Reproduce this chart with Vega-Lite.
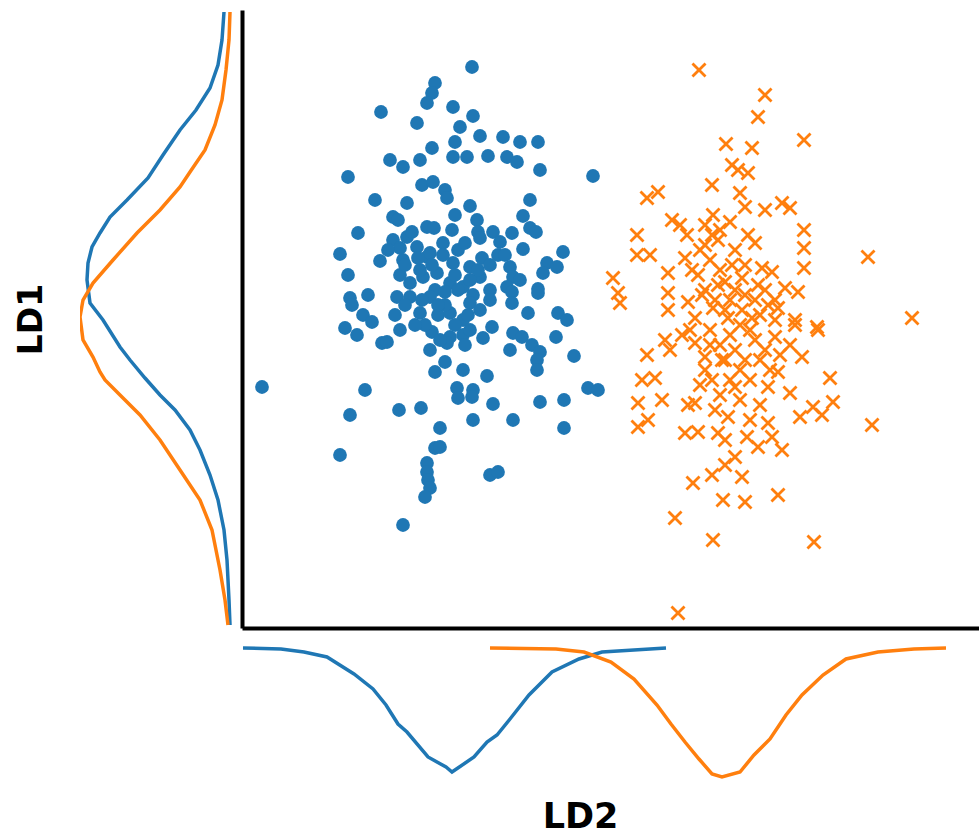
{
"$schema": "https://vega.github.io/schema/vega-lite/v6.json",
"padding": {"left": 15, "top": 10, "right": 0, "bottom": 0},
"background": "white",
"config": {"view": {"stroke": null}, "font": "DejaVu Sans"},
"columns": 2,
"spacing": {"row": 12, "column": 4},
"datasets": {
"blue": [
{"ld2":1.93,"ld1":5.45},{"ld2":1.90,"ld1":5.35},{"ld2":1.85,"ld1":5.25},{"ld2":1.39,"ld1":5.16},{"ld2":1.75,"ld1":5.05},
{"ld2":1.90,"ld1":4.80},{"ld2":1.48,"ld1":4.68},{"ld2":1.61,"ld1":4.61},{"ld2":1.78,"ld1":4.68},{"ld2":1.06,"ld1":4.51},
{"ld2":1.80,"ld1":4.43},{"ld2":1.91,"ld1":4.46},{"ld2":1.33,"ld1":4.28},{"ld2":1.65,"ld1":4.25},{"ld2":1.51,"ld1":4.11},
{"ld2":1.56,"ld1":4.08},{"ld2":1.85,"ld1":4.01},{"ld2":1.16,"ld1":3.95},{"ld2":1.51,"ld1":3.88},{"ld2":1.65,"ld1":3.91},
{"ld2":1.75,"ld1":3.81},{"ld2":0.98,"ld1":3.74},{"ld2":1.38,"ld1":3.67},{"ld2":1.61,"ld1":3.68},{"ld2":1.85,"ld1":3.71},
{"ld2":1.06,"ld1":3.53},{"ld2":1.81,"ld1":3.51},{"ld2":1.68,"ld1":3.45},{"ld2":1.26,"ld1":3.33},{"ld2":1.08,"ld1":3.30},
{"ld2":1.55,"ld1":3.31},{"ld2":2.30,"ld1":5.61},{"ld2":2.11,"ld1":5.21},{"ld2":2.31,"ld1":5.12},{"ld2":2.18,"ld1":5.01},
{"ld2":2.38,"ld1":4.92},{"ld2":2.61,"ld1":4.91},{"ld2":2.78,"ld1":4.86},{"ld2":2.96,"ld1":4.86},{"ld2":2.13,"ld1":4.86},
{"ld2":2.11,"ld1":4.71},{"ld2":2.25,"ld1":4.71},{"ld2":2.46,"ld1":4.72},{"ld2":2.65,"ld1":4.71},{"ld2":2.75,"ld1":4.66},
{"ld2":2.98,"ld1":4.58},{"ld2":3.51,"ld1":4.52},{"ld2":2.03,"ld1":4.38},{"ld2":2.05,"ld1":4.30},{"ld2":2.88,"ld1":4.28},
{"ld2":2.28,"ld1":4.22},{"ld2":2.13,"ld1":4.13},{"ld2":2.81,"ld1":4.12},{"ld2":1.92,"ld1":4.00},{"ld2":2.35,"ld1":4.08},
{"ld2":2.10,"ld1":3.98},{"ld2":2.36,"ld1":3.96},{"ld2":2.51,"ld1":3.96},{"ld2":2.70,"ld1":3.95},{"ld2":2.88,"ld1":4.00},
{"ld2":2.94,"ld1":3.96},{"ld2":2.01,"ld1":3.85},{"ld2":2.38,"ld1":3.90},{"ld2":2.58,"ld1":3.86},{"ld2":2.81,"ld1":3.79},
{"ld2":3.21,"ld1":3.76},{"ld2":1.88,"ld1":3.75},{"ld2":2.11,"ld1":3.65},{"ld2":2.40,"ld1":3.70},{"ld2":2.28,"ld1":3.61},
{"ld2":2.68,"ld1":3.61},{"ld2":3.05,"ld1":3.65},{"ld2":3.15,"ld1":3.61},{"ld2":1.95,"ld1":3.55},{"ld2":2.38,"ld1":3.51},
{"ld2":2.71,"ld1":3.51},{"ld2":2.78,"ld1":3.48},{"ld2":3.01,"ld1":3.55},{"ld2":2.08,"ld1":3.45},{"ld2":2.21,"ld1":3.41},
{"ld2":2.65,"ld1":3.41},{"ld2":2.96,"ld1":3.39},{"ld2":2.31,"ld1":3.33},{"ld2":1.93,"ld1":3.38},{"ld2":1.68,"ld1":3.31},
{"ld2":1.88,"ld1":3.31},{"ld2":1.10,"ld1":3.23},{"ld2":1.21,"ld1":3.13},{"ld2":1.30,"ld1":3.06},{"ld2":1.78,"ld1":3.15},
{"ld2":1.96,"ld1":3.13},{"ld2":1.03,"ld1":3.00},{"ld2":1.15,"ld1":2.93},{"ld2":1.40,"ld1":2.85},{"ld2":1.45,"ld1":2.86},
{"ld2":1.90,"ld1":2.96},{"ld2":1.88,"ld1":2.78},{"ld2":1.93,"ld1":2.56},{"ld2":0.20,"ld1":2.41},{"ld2":1.23,"ld1":2.38},
{"ld2":1.08,"ld1":2.13},{"ld2":1.57,"ld1":2.18},{"ld2":1.79,"ld1":2.20},{"ld2":1.98,"ld1":2.00},{"ld2":1.93,"ld1":1.80},
{"ld2":0.98,"ld1":1.73},{"ld2":1.85,"ld1":1.65},{"ld2":1.85,"ld1":1.56},{"ld2":1.86,"ld1":1.48},{"ld2":1.88,"ld1":1.40},
{"ld2":1.83,"ld1":1.31},{"ld2":1.61,"ld1":1.03},{"ld2":2.70,"ld1":3.36},{"ld2":2.96,"ld1":3.35},{"ld2":2.70,"ld1":3.25},
{"ld2":2.28,"ld1":3.25},{"ld2":2.38,"ld1":3.18},{"ld2":2.86,"ld1":3.15},{"ld2":3.16,"ld1":3.15},{"ld2":3.25,"ld1":3.08},
{"ld2":2.08,"ld1":3.15},{"ld2":2.21,"ld1":3.08},{"ld2":2.50,"ld1":3.01},{"ld2":2.08,"ld1":2.91},{"ld2":2.21,"ld1":2.93},
{"ld2":2.41,"ld1":2.90},{"ld2":2.71,"ld1":2.95},{"ld2":2.80,"ld1":2.91},{"ld2":2.68,"ld1":2.78},{"ld2":2.90,"ld1":2.83},
{"ld2":2.98,"ld1":2.76},{"ld2":3.14,"ld1":2.91},{"ld2":2.05,"ld1":2.85},{"ld2":2.95,"ld1":2.68},{"ld2":2.95,"ld1":2.58},
{"ld2":3.32,"ld1":2.72},{"ld2":2.03,"ld1":2.66},{"ld2":2.21,"ld1":2.58},{"ld2":2.45,"ld1":2.52},{"ld2":2.15,"ld1":2.40},
{"ld2":2.31,"ld1":2.38},{"ld2":2.16,"ld1":2.30},{"ld2":2.30,"ld1":2.31},{"ld2":3.46,"ld1":2.40},{"ld2":3.56,"ld1":2.38},
{"ld2":2.51,"ld1":2.24},{"ld2":2.98,"ld1":2.26},{"ld2":3.22,"ld1":2.28},{"ld2":2.31,"ld1":2.08},{"ld2":2.71,"ld1":2.08},
{"ld2":3.22,"ld1":2.00},{"ld2":1.98,"ld1":1.81},{"ld2":2.48,"ld1":1.53},{"ld2":2.56,"ld1":1.56},
{"ld2":2.01,"ld1":3.73},{"ld2":2.16,"ld1":3.78},{"ld2":2.23,"ld1":3.85},{"ld2":1.78,"ld1":3.58},{"ld2":1.58,"ld1":3.80},
{"ld2":1.46,"ld1":3.78},{"ld2":1.70,"ld1":3.96},{"ld2":2.13,"ld1":3.03},{"ld2":1.83,"ld1":3.03},{"ld2":1.63,"ld1":3.23},
{"ld2":2.13,"ld1":3.53},{"ld2":2.03,"ld1":3.23},{"ld2":2.28,"ld1":3.48},{"ld2":2.48,"ld1":3.38},{"ld2":2.56,"ld1":3.73},
{"ld2":2.48,"ld1":3.28},{"ld2":2.23,"ld1":2.83},{"ld2":1.73,"ld1":3.03},{"ld2":1.58,"ld1":3.53},
{"ld2":1.63,"ld1":3.63},{"ld2":1.76,"ld1":3.70},{"ld2":1.90,"ld1":3.63},{"ld2":2.03,"ld1":3.36},{"ld2":2.16,"ld1":3.38},
{"ld2":2.26,"ld1":3.13},{"ld2":1.96,"ld1":3.23},{"ld2":1.80,"ld1":3.28},{"ld2":1.53,"ld1":3.13},{"ld2":1.58,"ld1":2.98},
{"ld2":1.98,"ld1":2.88},{"ld2":2.28,"ld1":2.98},{"ld2":2.36,"ld1":3.58},{"ld2":2.48,"ld1":3.63},{"ld2":2.63,"ld1":3.73}
],
"orange": [
{"ld2":4.57,"ld1":5.58},{"ld2":5.23,"ld1":5.33},{"ld2":5.16,"ld1":5.11},{"ld2":4.84,"ld1":4.84},{"ld2":5.10,"ld1":4.80},
{"ld2":4.90,"ld1":4.63},{"ld2":4.96,"ld1":4.58},{"ld2":5.06,"ld1":4.55},{"ld2":4.70,"ld1":4.43},{"ld2":5.23,"ld1":4.18},
{"ld2":4.05,"ld1":4.30},{"ld2":4.16,"ld1":4.36},{"ld2":4.30,"ld1":4.08},{"ld2":4.38,"ld1":4.03},{"ld2":4.45,"ld1":3.93},
{"ld2":4.71,"ld1":4.13},{"ld2":4.70,"ld1":3.93},{"ld2":4.78,"ld1":3.98},{"ld2":4.88,"ld1":4.06},{"ld2":4.98,"ld1":4.35},
{"ld2":5.03,"ld1":4.21},{"ld2":3.95,"ld1":3.93},{"ld2":3.95,"ld1":3.73},{"ld2":4.08,"ld1":3.73},{"ld2":4.43,"ld1":3.70},
{"ld2":4.56,"ld1":3.53},{"ld2":4.50,"ld1":3.58},{"ld2":5.06,"ld1":3.93},{"ld2":5.13,"ld1":3.85},{"ld2":4.90,"ld1":3.63},
{"ld2":5.00,"ld1":3.50},{"ld2":5.20,"ld1":3.60},{"ld2":3.71,"ld1":3.50},{"ld2":3.76,"ld1":3.35},{"ld2":3.78,"ld1":3.25},
{"ld2":4.26,"ld1":3.55},{"ld2":4.26,"ld1":3.35},{"ld2":4.26,"ld1":3.18},{"ld2":4.46,"ld1":3.26},{"ld2":4.60,"ld1":3.33},
{"ld2":4.71,"ld1":3.20},{"ld2":5.03,"ld1":3.33},{"ld2":5.16,"ld1":3.43},{"ld2":4.53,"ld1":3.10},{"ld2":4.86,"ld1":3.10},
{"ld2":5.10,"ld1":3.10},{"ld2":5.62,"ld1":4.88},{"ld2":5.40,"ld1":4.25},{"ld2":5.48,"ld1":4.20},{"ld2":5.62,"ld1":3.98},
{"ld2":5.62,"ld1":3.80},{"ld2":5.62,"ld1":3.60},{"ld2":6.26,"ld1":3.71},{"ld2":5.30,"ld1":3.56},{"ld2":5.43,"ld1":3.40},
{"ld2":5.56,"ld1":3.36},{"ld2":5.26,"ld1":3.23},{"ld2":5.36,"ld1":3.20},{"ld2":5.53,"ld1":3.08},{"ld2":5.75,"ld1":3.01},
{"ld2":6.70,"ld1":3.10},{"ld2":4.23,"ld1":2.88},{"ld2":4.40,"ld1":2.93},{"ld2":4.05,"ld1":2.73},{"ld2":4.28,"ld1":2.78},
{"ld2":4.53,"ld1":2.85},{"ld2":4.00,"ld1":2.48},{"ld2":4.13,"ld1":2.50},{"ld2":3.96,"ld1":2.25},{"ld2":4.20,"ld1":2.28},
{"ld2":4.06,"ld1":2.08},{"ld2":3.96,"ld1":2.01},{"ld2":4.46,"ld1":2.23},{"ld2":4.53,"ld1":2.25},{"ld2":4.43,"ld1":1.95},
{"ld2":4.56,"ld1":1.96},{"ld2":4.76,"ld1":1.95},{"ld2":4.86,"ld1":2.11},{"ld2":4.70,"ld1":2.48},{"ld2":4.80,"ld1":2.68},
{"ld2":4.63,"ld1":2.71},{"ld2":4.93,"ld1":2.41},{"ld2":5.05,"ld1":1.91},{"ld2":5.16,"ld1":1.81},{"ld2":4.93,"ld1":1.71},
{"ld2":4.83,"ld1":1.63},{"ld2":4.70,"ld1":1.53},{"ld2":5.00,"ld1":1.51},{"ld2":4.51,"ld1":1.45},{"ld2":4.81,"ld1":1.28},
{"ld2":5.03,"ld1":1.26},{"ld2":4.33,"ld1":1.10},{"ld2":4.71,"ld1":0.88},{"ld2":4.36,"ld1":0.15},{"ld2":5.33,"ld1":2.91},
{"ld2":5.53,"ld1":3.03},{"ld2":5.76,"ld1":2.98},{"ld2":5.60,"ld1":2.71},{"ld2":5.88,"ld1":2.50},{"ld2":5.36,"ld1":2.56},
{"ld2":5.26,"ld1":2.41},{"ld2":5.48,"ld1":2.35},{"ld2":5.91,"ld1":2.26},{"ld2":5.71,"ld1":2.21},{"ld2":5.80,"ld1":2.13},
{"ld2":5.58,"ld1":2.11},{"ld2":6.30,"ld1":2.03},{"ld2":5.26,"ld1":2.05},{"ld2":5.30,"ld1":1.91},{"ld2":5.40,"ld1":1.78},
{"ld2":5.36,"ld1":1.33},{"ld2":5.72,"ld1":0.86},{"ld2":4.58,"ld1":3.78},{"ld2":4.68,"ld1":3.68},{"ld2":4.78,"ld1":3.58},
{"ld2":4.83,"ld1":3.46},{"ld2":4.93,"ld1":3.38},{"ld2":5.13,"ld1":3.28},{"ld2":5.23,"ld1":3.38},{"ld2":5.33,"ld1":3.28},
{"ld2":5.18,"ld1":3.13},{"ld2":4.98,"ld1":3.03},{"ld2":4.88,"ld1":2.93},{"ld2":4.78,"ld1":2.83},{"ld2":4.68,"ld1":2.98},
{"ld2":4.73,"ld1":3.28},{"ld2":4.83,"ld1":3.18},{"ld2":4.93,"ld1":2.78},{"ld2":5.03,"ld1":2.68},{"ld2":5.13,"ld1":2.88},
{"ld2":5.23,"ld1":2.78},{"ld2":5.38,"ld1":2.73},{"ld2":5.48,"ld1":2.83},{"ld2":5.28,"ld1":2.58},{"ld2":5.08,"ld1":2.48},
{"ld2":4.98,"ld1":2.28},{"ld2":5.18,"ld1":2.23},{"ld2":5.08,"ld1":2.08},{"ld2":4.88,"ld1":2.48},{"ld2":4.78,"ld1":2.33},
{"ld2":4.63,"ld1":2.58},{"ld2":4.58,"ld1":2.43},{"ld2":4.73,"ld1":2.18},{"ld2":4.83,"ld1":1.88},{"ld2":4.63,"ld1":3.83},
{"ld2":4.76,"ld1":3.88},{"ld2":4.93,"ld1":3.78},{"ld2":4.63,"ld1":4.03},{"ld2":5.03,"ld1":3.63},
{"ld2":4.63,"ld1":3.38},{"ld2":4.76,"ld1":3.43},{"ld2":4.88,"ld1":3.28},{"ld2":5.00,"ld1":3.18},{"ld2":4.68,"ld1":2.83},
{"ld2":4.83,"ld1":2.68},{"ld2":4.98,"ld1":2.58},{"ld2":5.18,"ld1":2.68},{"ld2":5.08,"ld1":2.98},{"ld2":4.48,"ld1":2.98},
{"ld2":5.33,"ld1":3.08}
],
"left": [
{"g":"A","ld1":6.16,"dens":0.008},{"g":"A","ld1":5.88,"dens":0.010},{"g":"A","ld1":5.63,"dens":0.014},{"g":"A","ld1":5.40,"dens":0.022},
{"g":"A","ld1":5.18,"dens":0.036},{"g":"A","ld1":4.98,"dens":0.052},{"g":"A","ld1":4.73,"dens":0.069},{"g":"A","ld1":4.50,"dens":0.084},
{"g":"A","ld1":4.28,"dens":0.105},{"g":"A","ld1":4.11,"dens":0.122},{"g":"A","ld1":3.95,"dens":0.132},{"g":"A","ld1":3.81,"dens":0.140},
{"g":"A","ld1":3.65,"dens":0.144},{"g":"A","ld1":3.48,"dens":0.145},{"g":"A","ld1":3.25,"dens":0.142},{"g":"A","ld1":3.08,"dens":0.129},
{"g":"A","ld1":2.81,"dens":0.112},{"g":"A","ld1":2.68,"dens":0.102},{"g":"A","ld1":2.50,"dens":0.087},{"g":"A","ld1":2.33,"dens":0.072},
{"g":"A","ld1":2.18,"dens":0.057},{"g":"A","ld1":1.98,"dens":0.042},{"g":"A","ld1":1.78,"dens":0.032},{"g":"A","ld1":1.53,"dens":0.022},
{"g":"A","ld1":1.28,"dens":0.014},{"g":"A","ld1":0.98,"dens":0.008},{"g":"A","ld1":0.68,"dens":0.005},{"g":"A","ld1":0.28,"dens":0.003},
{"g":"A","ld1":0.03,"dens":0.002},
{"g":"B","ld1":6.16,"dens":0.002},{"g":"B","ld1":5.88,"dens":0.003},{"g":"B","ld1":5.58,"dens":0.006},{"g":"B","ld1":5.28,"dens":0.010},
{"g":"B","ld1":5.03,"dens":0.017},{"g":"B","ld1":4.78,"dens":0.027},{"g":"B","ld1":4.56,"dens":0.042},{"g":"B","ld1":4.41,"dens":0.052},
{"g":"B","ld1":4.18,"dens":0.072},{"g":"B","ld1":3.95,"dens":0.095},{"g":"B","ld1":3.68,"dens":0.119},{"g":"B","ld1":3.45,"dens":0.139},
{"g":"B","ld1":3.28,"dens":0.149},{"g":"B","ld1":3.11,"dens":0.152},{"g":"B","ld1":2.88,"dens":0.149},{"g":"B","ld1":2.71,"dens":0.139},
{"g":"B","ld1":2.56,"dens":0.132},{"g":"B","ld1":2.48,"dens":0.127},{"g":"B","ld1":2.33,"dens":0.112},{"g":"B","ld1":2.13,"dens":0.092},
{"g":"B","ld1":1.88,"dens":0.072},{"g":"B","ld1":1.58,"dens":0.052},{"g":"B","ld1":1.28,"dens":0.032},{"g":"B","ld1":0.98,"dens":0.020},
{"g":"B","ld1":0.58,"dens":0.012},{"g":"B","ld1":0.28,"dens":0.007},{"g":"B","ld1":0.03,"dens":0.004}
],
"bottom": [
{"g":"A","ld2":0.01,"dens":0.006},{"g":"A","ld2":0.39,"dens":0.007},{"g":"A","ld2":0.62,"dens":0.010},{"g":"A","ld2":0.85,"dens":0.015},
{"g":"A","ld2":1.12,"dens":0.032},{"g":"A","ld2":1.31,"dens":0.047},{"g":"A","ld2":1.44,"dens":0.063},{"g":"A","ld2":1.56,"dens":0.082},
{"g":"A","ld2":1.65,"dens":0.090},{"g":"A","ld2":1.86,"dens":0.115},{"g":"A","ld2":2.04,"dens":0.125},{"g":"A","ld2":2.10,"dens":0.130},
{"g":"A","ld2":2.32,"dens":0.115},{"g":"A","ld2":2.45,"dens":0.100},{"g":"A","ld2":2.55,"dens":0.093},{"g":"A","ld2":2.68,"dens":0.077},
{"g":"A","ld2":2.87,"dens":0.053},{"g":"A","ld2":3.10,"dens":0.030},{"g":"A","ld2":3.37,"dens":0.017},{"g":"A","ld2":3.60,"dens":0.010},
{"g":"A","ld2":4.24,"dens":0.006},
{"g":"B","ld2":2.48,"dens":0.006},{"g":"B","ld2":3.14,"dens":0.007},{"g":"B","ld2":3.42,"dens":0.010},{"g":"B","ld2":3.69,"dens":0.020},
{"g":"B","ld2":3.92,"dens":0.037},{"g":"B","ld2":4.15,"dens":0.063},{"g":"B","ld2":4.29,"dens":0.082},{"g":"B","ld2":4.43,"dens":0.100},
{"g":"B","ld2":4.57,"dens":0.117},{"g":"B","ld2":4.70,"dens":0.132},{"g":"B","ld2":4.80,"dens":0.135},{"g":"B","ld2":4.98,"dens":0.130},
{"g":"B","ld2":5.12,"dens":0.113},{"g":"B","ld2":5.28,"dens":0.097},{"g":"B","ld2":5.44,"dens":0.073},{"g":"B","ld2":5.60,"dens":0.053},
{"g":"B","ld2":5.81,"dens":0.033},{"g":"B","ld2":6.04,"dens":0.017},{"g":"B","ld2":6.36,"dens":0.010},{"g":"B","ld2":6.72,"dens":0.007},
{"g":"B","ld2":7.04,"dens":0.006}
]
},
"concat": [
{
"width": 152, "height": 618,
"data": {"name": "left"},
"mark": {"type": "line", "strokeWidth": 3.5, "clip": true},
"encoding": {
"x": {"field": "dens", "type": "quantitative", "scale": {"domain": [0, 0.152], "reverse": true, "nice": false, "zero": false}, "axis": null},
"y": {"field": "ld1", "type": "quantitative", "scale": {"domain": [0, 6.18], "nice": false, "zero": false},
"axis": {"title": "LD1", "domain": false, "ticks": false, "labels": false, "grid": false, "titleFontSize": 33, "titleFontWeight": "bold", "titleFont": "DejaVu Sans", "titleColor": "black", "titlePadding": 32}},
"order": {"field": "ld1", "type": "quantitative"},
"color": {"field": "g", "type": "nominal", "scale": {"domain": ["A", "B"], "range": ["#1f77b4", "#ff7f0e"]}, "legend": null}
}
},
{
"width": 737, "height": 618,
"layer": [
{
"data": {"name": "blue"},
"mark": {"type": "circle", "size": 190, "color": "#1f77b4", "opacity": 1},
"encoding": {
"x": {"field": "ld2", "type": "quantitative", "scale": {"domain": [0, 7.37], "nice": false, "zero": false},
"axis": {"title": null, "domain": true, "domainColor": "black", "domainWidth": 4, "ticks": false, "labels": false, "grid": false}},
"y": {"field": "ld1", "type": "quantitative", "scale": {"domain": [0, 6.18], "nice": false, "zero": false},
"axis": {"title": null, "domain": true, "domainColor": "black", "domainWidth": 4, "ticks": false, "labels": false, "grid": false}}
}
},
{
"data": {"name": "orange"},
"mark": {"type": "point", "shape": "M-1,-1L1,1M-1,1L1,-1", "size": 170, "color": "#ff7f0e", "filled": false, "strokeWidth": 2.8, "opacity": 1},
"encoding": {
"x": {"field": "ld2", "type": "quantitative"},
"y": {"field": "ld1", "type": "quantitative"}
}
}
]
},
{
"width": 152, "height": 135,
"data": {"values": [{"a": 1}]},
"mark": {"type": "point", "opacity": 0},
"encoding": {}
},
{
"width": 737, "height": 135,
"data": {"name": "bottom"},
"mark": {"type": "line", "strokeWidth": 3.5},
"encoding": {
"x": {"field": "ld2", "type": "quantitative", "scale": {"domain": [0, 7.37], "nice": false, "zero": false},
"axis": {"title": "LD2", "domain": false, "ticks": false, "labels": false, "grid": false, "titleFontSize": 35, "titleFontWeight": "bold", "titleFont": "DejaVu Sans", "titleColor": "black", "titlePadding": 22, "titleX": 338}},
"y": {"field": "dens", "type": "quantitative", "scale": {"domain": [0, 0.135], "reverse": true, "nice": false, "zero": false}, "axis": null},
"color": {"field": "g", "type": "nominal", "scale": {"domain": ["A", "B"], "range": ["#1f77b4", "#ff7f0e"]}, "legend": null}
}
}
]
}
